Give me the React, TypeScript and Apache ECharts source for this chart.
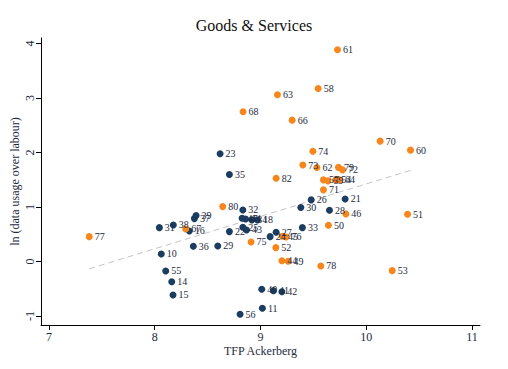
import React, { useEffect, useRef } from "react";
import * as echarts from "echarts";

const navyLabels = ["23","35","32","39","37","31","38","16","22","36","29","10","55","14","15","56","11","40","41","42","47","44","34","18","25","43","24","27","26","21","30","28","33"];
const navyX = [8.618,8.706,8.833,8.391,8.375,8.044,8.176,8.327,8.706,8.365,8.596,8.062,8.104,8.161,8.173,8.807,9.018,9.012,9.122,9.202,8.826,8.859,8.918,8.971,8.833,8.868,9.091,9.148,9.479,9.800,9.381,9.652,9.396];
const navyY = [1.975,1.595,0.946,0.842,0.787,0.621,0.671,0.561,0.548,0.280,0.285,0.138,-0.174,-0.370,-0.614,-0.969,-0.859,-0.510,-0.535,-0.554,0.794,0.781,0.763,0.762,0.629,0.579,0.456,0.537,1.130,1.148,0.989,0.941,0.621];

const orangeLabels = ["61","58","63","66","68","74","73","62","79","72","70","60","82","57","59","54","64","71","46","50","51","53","78","45","76","52","80","75","67","44","49","77"];
const orangeX = [9.728,9.545,9.160,9.299,8.835,9.495,9.400,9.533,9.737,9.775,10.131,10.418,9.148,9.595,9.637,9.712,9.746,9.595,9.807,9.642,10.390,10.245,9.570,9.207,9.242,9.145,8.643,8.911,8.293,9.202,9.261,7.381];
const orangeY = [3.884,3.174,3.058,2.593,2.746,2.021,1.769,1.723,1.727,1.681,2.208,2.043,1.528,1.497,1.479,1.497,1.497,1.314,0.873,0.666,0.867,-0.168,-0.082,0.463,0.450,0.254,1.007,0.359,0.597,0.015,0.004,0.456];

const fitX = [7.381, 10.418];
const fitY = [-0.135, 1.672];

const xTicks = [7, 8, 9, 10, 11];
const yTicks = [-1, 0, 1, 2, 3, 4];

const NAVY = "#1c3d62";
const ORANGE = "#f7861c";
const TEXT = "#1e2a40";
const FONT = "'Liberation Serif', 'DejaVu Serif', serif";

export default function App() {
  const ref = useRef<HTMLDivElement>(null);
  useEffect(() => {
    if (!ref.current) return;
    const chart = echarts.init(ref.current, undefined, { renderer: "svg" });
    const mk = (labels: string[], xs: number[], ys: number[]) =>
      labels.map((n, i) => ({ name: n, value: [xs[i], ys[i]] }));
    const labelCfg = {
      show: true,
      position: "right" as const,
      distance: 2,
      formatter: "{b}",
      fontSize: 10,
      fontFamily: FONT,
      color: TEXT,
    };
    chart.setOption({
      animation: false,
      backgroundColor: "#ffffff",
      title: {
        text: "Goods & Services",
        left: "center",
        top: 12,
        textStyle: { fontSize: 16, fontWeight: "normal", fontFamily: FONT, color: "#111" },
      },
      grid: { left: 41, right: 28, top: 38, bottom: 44, containLabel: false, outerBoundsMode: "none" },
      xAxis: {
        type: "value",
        min: 6.925,
        max: 11.075,
        name: "TFP Ackerberg",
        nameLocation: "middle",
        nameGap: 20,
        nameMoveOverlap: false,
        nameTextStyle: { fontSize: 12, fontFamily: FONT, color: TEXT },
        axisLine: { show: true, onZero: false, lineStyle: { color: "#000", width: 1 } },
        axisTick: { show: true, length: 5, customValues: xTicks, lineStyle: { color: "#000" } },
        axisLabel: { customValues: xTicks, margin: 6, fontSize: 12, fontFamily: FONT, color: TEXT },
        splitLine: { show: false },
      },
      yAxis: {
        type: "value",
        min: -1.165,
        max: 4.1,
        name: "ln (data usage over labour)",
        nameLocation: "middle",
        nameGap: 20,
        nameMoveOverlap: false,
        nameTextStyle: { fontSize: 12, fontFamily: FONT, color: TEXT },
        axisLine: { show: true, onZero: false, lineStyle: { color: "#000", width: 1 } },
        axisTick: { show: true, length: 5, customValues: yTicks, lineStyle: { color: "#000" } },
        axisLabel: { customValues: yTicks, rotate: 90, margin: 5, fontSize: 12, fontFamily: FONT, color: TEXT },
        splitLine: { show: false },
      },
      series: [
        {
          type: "line",
          data: fitX.map((x, i) => [x, fitY[i]]),
          showSymbol: false,
          symbol: "none",
          lineStyle: { color: "#c4c4c4", width: 1, type: [6, 4] },
          z: 1,
          silent: true,
        },
        {
          type: "scatter",
          data: mk(navyLabels, navyX, navyY),
          symbolSize: 7,
          itemStyle: { color: NAVY, opacity: 1 },
          label: labelCfg,
          z: 2,
        },
        {
          type: "scatter",
          data: mk(orangeLabels, orangeX, orangeY),
          symbolSize: 7,
          itemStyle: { color: ORANGE, opacity: 1 },
          label: labelCfg,
          z: 2,
        },
      ],
    });
    return () => chart.dispose();
  }, []);
  return (
    <div
      ref={ref}
      style={{ position: "absolute", left: 0, top: 0, width: 508, height: 369, background: "#fff" }}
    />
  );
}
